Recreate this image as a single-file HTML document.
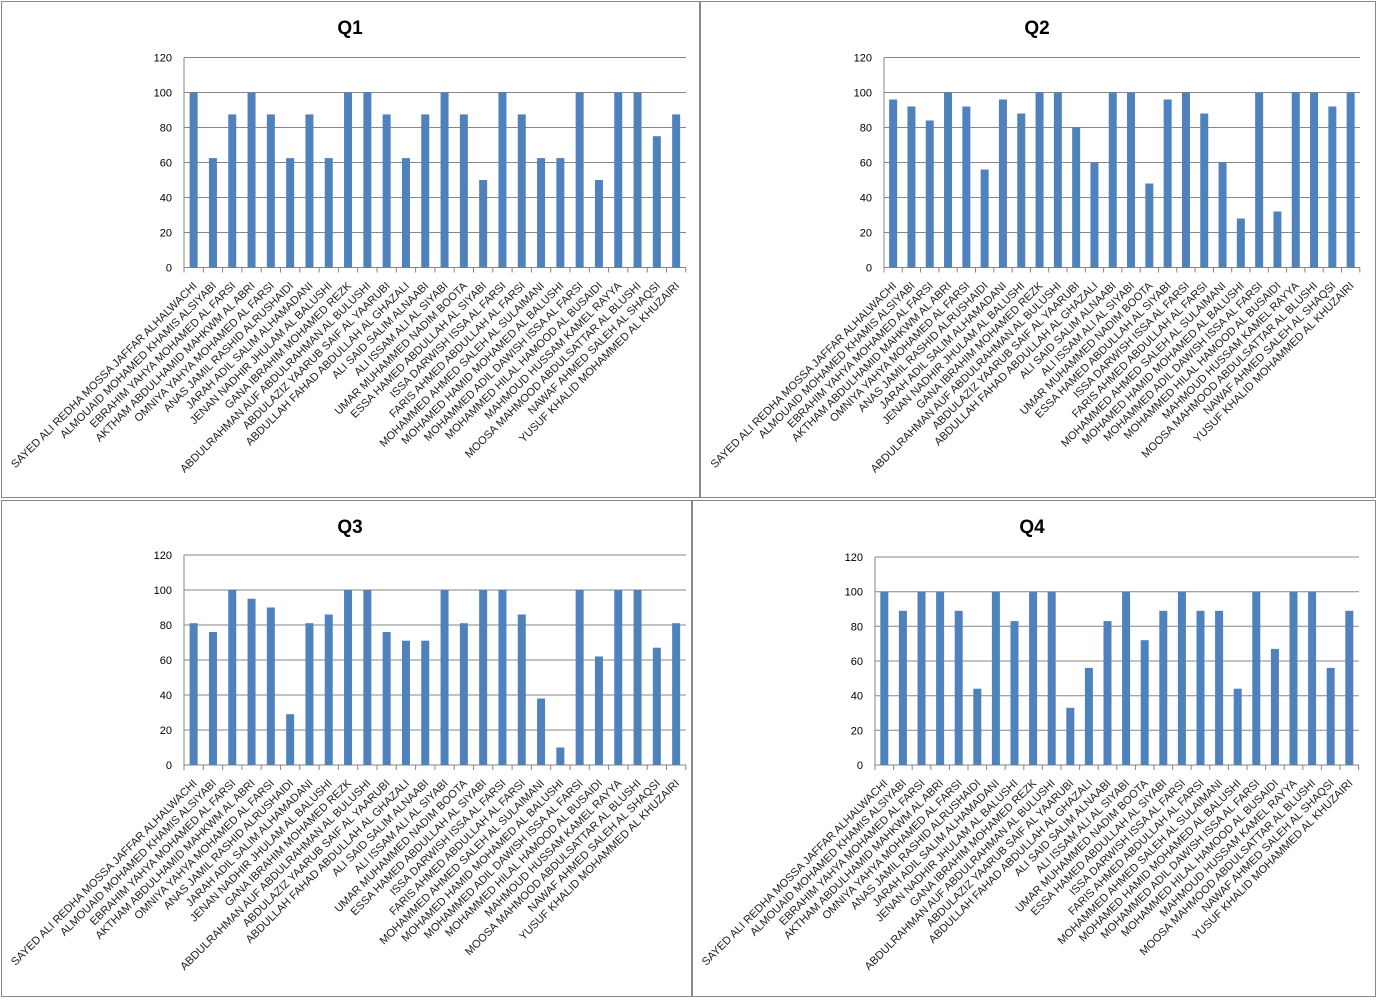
<!DOCTYPE html>
<html><head><meta charset="utf-8"><style>
body{margin:0;background:#fff}
svg{display:block;font-family:"Liberation Sans",sans-serif}
.b rect{width:8px;fill:#4f81bd}
.l text{font-size:11.1px;fill:#222;text-anchor:end}
.y text{font-size:11px;fill:#000;text-anchor:end}
.t{font-size:19px;font-weight:bold;text-anchor:middle}
.g{stroke:#868686;stroke-width:1;fill:none}
</style></head><body>
<svg width="1377" height="1001" viewBox="0 0 1377 1001">
<rect x="1.5" y="1.5" width="698" height="496" fill="none" stroke="#888"/>
<rect x="700.5" y="1.5" width="675" height="496" fill="none" stroke="#888"/>
<rect x="1.5" y="500.5" width="690" height="496" fill="none" stroke="#888"/>
<rect x="692.5" y="500.5" width="683" height="496" fill="none" stroke="#888"/>
<text class="t" x="350" y="34">Q1</text>
<text class="t" x="1037" y="34">Q2</text>
<text class="t" x="350" y="533">Q3</text>
<text class="t" x="1032" y="533">Q4</text>

<!-- Q1 -->
<g transform="translate(184,267.5)">
<path class="g" d="M0 -210H502M0 -175H502M0 -140H502M0 -105H502M0 -70H502M0 -35H502M0 0H502M0 -210V5"/>
<path class="g" d="M19.3 0v5M38.6 0v5M57.9 0v5M77.2 0v5M96.5 0v5M115.8 0v5M135.1 0v5M154.4 0v5M173.7 0v5M193 0v5M212.3 0v5M231.6 0v5M250.9 0v5M270.2 0v5M289.5 0v5M308.8 0v5M328.1 0v5M347.4 0v5M366.7 0v5M386 0v5M405.3 0v5M424.6 0v5M443.9 0v5M463.2 0v5M482.5 0v5M501.8 0v5"/>
<g class="y"><text x="-12" y="4">0</text><text x="-12" y="-31">20</text><text x="-12" y="-66">40</text><text x="-12" y="-101">60</text><text x="-12" y="-136">80</text><text x="-12" y="-171">100</text><text x="-12" y="-206">120</text></g>
<g class="b" transform="scale(1,-1)">
<rect x="5.65" height="175"/><rect x="24.95" height="109.4"/><rect x="44.25" height="153.1"/><rect x="63.55" height="175"/><rect x="82.85" height="153.1"/><rect x="102.15" height="109.4"/><rect x="121.45" height="153.1"/><rect x="140.75" height="109.4"/><rect x="160.05" height="175"/><rect x="179.35" height="175"/><rect x="198.65" height="153.1"/><rect x="217.95" height="109.4"/><rect x="237.25" height="153.1"/><rect x="256.55" height="175"/><rect x="275.85" height="153.1"/><rect x="295.15" height="87.5"/><rect x="314.45" height="175"/><rect x="333.75" height="153.1"/><rect x="353.05" height="109.4"/><rect x="372.35" height="109.4"/><rect x="391.65" height="175"/><rect x="410.95" height="87.5"/><rect x="430.25" height="175"/><rect x="449.55" height="175"/><rect x="468.85" height="131.3"/><rect x="488.15" height="153.1"/>
</g>
<g class="l">
<text transform="translate(13.6,19) rotate(-45)">SAYED ALI REDHA MOSSA JAFFAR ALHALWACHI</text>
<text transform="translate(32.9,19) rotate(-45)">ALMOUAID MOHAMED KHAMIS ALSIYABI</text>
<text transform="translate(52.2,19) rotate(-45)">EBRAHIM YAHYA MOHAMED AL FARSI</text>
<text transform="translate(71.5,19) rotate(-45)">AKTHAM ABDULHAMID MAHKWM AL ABRI</text>
<text transform="translate(90.8,19) rotate(-45)">OMNIYA YAHYA MOHAMED AL FARSI</text>
<text transform="translate(110.1,19) rotate(-45)">ANAS JAMIL RASHID ALRUSHAIDI</text>
<text transform="translate(129.4,19) rotate(-45)">JARAH ADIL SALIM ALHAMADANI</text>
<text transform="translate(148.7,19) rotate(-45)">JENAN NADHIR JHULAM AL BALUSHI</text>
<text transform="translate(168,19) rotate(-45)">GANA IBRAHIM MOHAMED REZK</text>
<text transform="translate(187.3,19) rotate(-45)">ABDULRAHMAN AUF ABDULRAHMAN AL BULUSHI</text>
<text transform="translate(206.6,19) rotate(-45)">ABDULAZIZ YAARUB SAIF AL YAARUBI</text>
<text transform="translate(225.9,19) rotate(-45)">ABDULLAH FAHAD ABDULLAH AL GHAZALI</text>
<text transform="translate(245.2,19) rotate(-45)">ALI SAID SALIM ALNAABI</text>
<text transform="translate(264.5,19) rotate(-45)">ALI ISSAM ALI AL SIYABI</text>
<text transform="translate(283.8,19) rotate(-45)">UMAR MUHAMMED NADIM BOOTA</text>
<text transform="translate(303.1,19) rotate(-45)">ESSA HAMED ABDULLAH AL SIYABI</text>
<text transform="translate(322.4,19) rotate(-45)">ISSA DARWISH ISSA AL FARSI</text>
<text transform="translate(341.7,19) rotate(-45)">FARIS AHMED ABDULLAH AL FARSI</text>
<text transform="translate(361,19) rotate(-45)">MOHAMMED AHMED SALEH AL SULAIMANI</text>
<text transform="translate(380.3,19) rotate(-45)">MOHAMED HAMID MOHAMED AL BALUSHI</text>
<text transform="translate(399.6,19) rotate(-45)">MOHAMMED ADIL DAWISH ISSA AL FARSI</text>
<text transform="translate(418.9,19) rotate(-45)">MOHAMMED HILAL HAMOOD AL BUSAIDI</text>
<text transform="translate(438.2,19) rotate(-45)">MAHMOUD HUSSAM KAMEL RAYYA</text>
<text transform="translate(457.5,19) rotate(-45)">MOOSA MAHMOOD ABDULSATTAR AL BLUSHI</text>
<text transform="translate(476.8,19) rotate(-45)">NAWAF AHMED SALEH AL SHAQSI</text>
<text transform="translate(496.1,19) rotate(-45)">YUSUF KHALID MOHAMMED AL KHUZAIRI</text>
</g>
</g>

<!-- Q2 -->
<g transform="translate(884,267.5)">
<path class="g" d="M0 -210H476M0 -175H476M0 -140H476M0 -105H476M0 -70H476M0 -35H476M0 0H476M0 -210V5"/>
<path class="g" d="M18.3 0v5M36.6 0v5M54.9 0v5M73.2 0v5M91.5 0v5M109.8 0v5M128.1 0v5M146.4 0v5M164.7 0v5M183 0v5M201.3 0v5M219.6 0v5M237.9 0v5M256.2 0v5M274.5 0v5M292.8 0v5M311.1 0v5M329.4 0v5M347.7 0v5M366 0v5M384.3 0v5M402.6 0v5M420.9 0v5M439.2 0v5M457.5 0v5M475.8 0v5"/>
<g class="y"><text x="-12" y="4">0</text><text x="-12" y="-31">20</text><text x="-12" y="-66">40</text><text x="-12" y="-101">60</text><text x="-12" y="-136">80</text><text x="-12" y="-171">100</text><text x="-12" y="-206">120</text></g>
<g class="b" transform="scale(1,-1)">
<rect x="5.15" height="168"/><rect x="23.45" height="161"/><rect x="41.75" height="147"/><rect x="60.05" height="175"/><rect x="78.35" height="161"/><rect x="96.65" height="98"/><rect x="114.95" height="168"/><rect x="133.25" height="154"/><rect x="151.55" height="175"/><rect x="169.85" height="175"/><rect x="188.15" height="140"/><rect x="206.45" height="105"/><rect x="224.75" height="175"/><rect x="243.05" height="175"/><rect x="261.35" height="84"/><rect x="279.65" height="168"/><rect x="297.95" height="175"/><rect x="316.25" height="154"/><rect x="334.55" height="105"/><rect x="352.85" height="49"/><rect x="371.15" height="175"/><rect x="389.45" height="56"/><rect x="407.75" height="175"/><rect x="426.05" height="175"/><rect x="444.35" height="161"/><rect x="462.65" height="175"/>
</g>
<g class="l">
<text transform="translate(13.1,19) rotate(-45)">SAYED ALI REDHA MOSSA JAFFAR ALHALWACHI</text>
<text transform="translate(31.4,19) rotate(-45)">ALMOUAID MOHAMED KHAMIS ALSIYABI</text>
<text transform="translate(49.7,19) rotate(-45)">EBRAHIM YAHYA MOHAMED AL FARSI</text>
<text transform="translate(68,19) rotate(-45)">AKTHAM ABDULHAMID MAHKWM AL ABRI</text>
<text transform="translate(86.3,19) rotate(-45)">OMNIYA YAHYA MOHAMED AL FARSI</text>
<text transform="translate(104.6,19) rotate(-45)">ANAS JAMIL RASHID ALRUSHAIDI</text>
<text transform="translate(122.9,19) rotate(-45)">JARAH ADIL SALIM ALHAMADANI</text>
<text transform="translate(141.2,19) rotate(-45)">JENAN NADHIR JHULAM AL BALUSHI</text>
<text transform="translate(159.5,19) rotate(-45)">GANA IBRAHIM MOHAMED REZK</text>
<text transform="translate(177.8,19) rotate(-45)">ABDULRAHMAN AUF ABDULRAHMAN AL BULUSHI</text>
<text transform="translate(196.1,19) rotate(-45)">ABDULAZIZ YAARUB SAIF AL YAARUBI</text>
<text transform="translate(214.4,19) rotate(-45)">ABDULLAH FAHAD ABDULLAH AL GHAZALI</text>
<text transform="translate(232.7,19) rotate(-45)">ALI SAID SALIM ALNAABI</text>
<text transform="translate(251,19) rotate(-45)">ALI ISSAM ALI AL SIYABI</text>
<text transform="translate(269.3,19) rotate(-45)">UMAR MUHAMMED NADIM BOOTA</text>
<text transform="translate(287.6,19) rotate(-45)">ESSA HAMED ABDULLAH AL SIYABI</text>
<text transform="translate(305.9,19) rotate(-45)">ISSA DARWISH ISSA AL FARSI</text>
<text transform="translate(324.2,19) rotate(-45)">FARIS AHMED ABDULLAH AL FARSI</text>
<text transform="translate(342.5,19) rotate(-45)">MOHAMMED AHMED SALEH AL SULAIMANI</text>
<text transform="translate(360.8,19) rotate(-45)">MOHAMED HAMID MOHAMED AL BALUSHI</text>
<text transform="translate(379.1,19) rotate(-45)">MOHAMMED ADIL DAWISH ISSA AL FARSI</text>
<text transform="translate(397.4,19) rotate(-45)">MOHAMMED HILAL HAMOOD AL BUSAIDI</text>
<text transform="translate(415.7,19) rotate(-45)">MAHMOUD HUSSAM KAMEL RAYYA</text>
<text transform="translate(434,19) rotate(-45)">MOOSA MAHMOOD ABDULSATTAR AL BLUSHI</text>
<text transform="translate(452.3,19) rotate(-45)">NAWAF AHMED SALEH AL SHAQSI</text>
<text transform="translate(470.6,19) rotate(-45)">YUSUF KHALID MOHAMMED AL KHUZAIRI</text>
</g>
</g>

<!-- Q3 -->
<g transform="translate(184,765)">
<path class="g" d="M0 -210H502M0 -175H502M0 -140H502M0 -105H502M0 -70H502M0 -35H502M0 0H502M0 -210V5"/>
<path class="g" d="M19.3 0v5M38.6 0v5M57.9 0v5M77.2 0v5M96.5 0v5M115.8 0v5M135.1 0v5M154.4 0v5M173.7 0v5M193 0v5M212.3 0v5M231.6 0v5M250.9 0v5M270.2 0v5M289.5 0v5M308.8 0v5M328.1 0v5M347.4 0v5M366.7 0v5M386 0v5M405.3 0v5M424.6 0v5M443.9 0v5M463.2 0v5M482.5 0v5M501.8 0v5"/>
<g class="y"><text x="-12" y="4">0</text><text x="-12" y="-31">20</text><text x="-12" y="-66">40</text><text x="-12" y="-101">60</text><text x="-12" y="-136">80</text><text x="-12" y="-171">100</text><text x="-12" y="-206">120</text></g>
<g class="b" transform="scale(1,-1)">
<rect x="5.65" height="141.8"/><rect x="24.95" height="133"/><rect x="44.25" height="175"/><rect x="63.55" height="166.3"/><rect x="82.85" height="157.5"/><rect x="102.15" height="50.8"/><rect x="121.45" height="141.8"/><rect x="140.75" height="150.5"/><rect x="160.05" height="175"/><rect x="179.35" height="175"/><rect x="198.65" height="133"/><rect x="217.95" height="124.3"/><rect x="237.25" height="124.3"/><rect x="256.55" height="175"/><rect x="275.85" height="141.8"/><rect x="295.15" height="175"/><rect x="314.45" height="175"/><rect x="333.75" height="150.5"/><rect x="353.05" height="66.5"/><rect x="372.35" height="17.5"/><rect x="391.65" height="175"/><rect x="410.95" height="108.5"/><rect x="430.25" height="175"/><rect x="449.55" height="175"/><rect x="468.85" height="117.3"/><rect x="488.15" height="141.8"/>
</g>
<g class="l">
<text transform="translate(13.6,19) rotate(-45)">SAYED ALI REDHA MOSSA JAFFAR ALHALWACHI</text>
<text transform="translate(32.9,19) rotate(-45)">ALMOUAID MOHAMED KHAMIS ALSIYABI</text>
<text transform="translate(52.2,19) rotate(-45)">EBRAHIM YAHYA MOHAMED AL FARSI</text>
<text transform="translate(71.5,19) rotate(-45)">AKTHAM ABDULHAMID MAHKWM AL ABRI</text>
<text transform="translate(90.8,19) rotate(-45)">OMNIYA YAHYA MOHAMED AL FARSI</text>
<text transform="translate(110.1,19) rotate(-45)">ANAS JAMIL RASHID ALRUSHAIDI</text>
<text transform="translate(129.4,19) rotate(-45)">JARAH ADIL SALIM ALHAMADANI</text>
<text transform="translate(148.7,19) rotate(-45)">JENAN NADHIR JHULAM AL BALUSHI</text>
<text transform="translate(168,19) rotate(-45)">GANA IBRAHIM MOHAMED REZK</text>
<text transform="translate(187.3,19) rotate(-45)">ABDULRAHMAN AUF ABDULRAHMAN AL BULUSHI</text>
<text transform="translate(206.6,19) rotate(-45)">ABDULAZIZ YAARUB SAIF AL YAARUBI</text>
<text transform="translate(225.9,19) rotate(-45)">ABDULLAH FAHAD ABDULLAH AL GHAZALI</text>
<text transform="translate(245.2,19) rotate(-45)">ALI SAID SALIM ALNAABI</text>
<text transform="translate(264.5,19) rotate(-45)">ALI ISSAM ALI AL SIYABI</text>
<text transform="translate(283.8,19) rotate(-45)">UMAR MUHAMMED NADIM BOOTA</text>
<text transform="translate(303.1,19) rotate(-45)">ESSA HAMED ABDULLAH AL SIYABI</text>
<text transform="translate(322.4,19) rotate(-45)">ISSA DARWISH ISSA AL FARSI</text>
<text transform="translate(341.7,19) rotate(-45)">FARIS AHMED ABDULLAH AL FARSI</text>
<text transform="translate(361,19) rotate(-45)">MOHAMMED AHMED SALEH AL SULAIMANI</text>
<text transform="translate(380.3,19) rotate(-45)">MOHAMED HAMID MOHAMED AL BALUSHI</text>
<text transform="translate(399.6,19) rotate(-45)">MOHAMMED ADIL DAWISH ISSA AL FARSI</text>
<text transform="translate(418.9,19) rotate(-45)">MOHAMMED HILAL HAMOOD AL BUSAIDI</text>
<text transform="translate(438.2,19) rotate(-45)">MAHMOUD HUSSAM KAMEL RAYYA</text>
<text transform="translate(457.5,19) rotate(-45)">MOOSA MAHMOOD ABDULSATTAR AL BLUSHI</text>
<text transform="translate(476.8,19) rotate(-45)">NAWAF AHMED SALEH AL SHAQSI</text>
<text transform="translate(496.1,19) rotate(-45)">YUSUF KHALID MOHAMMED AL KHUZAIRI</text>
</g>
</g>

<!-- Q4 -->
<g transform="translate(875,765)">
<path class="g" d="M0 -208H484M0 -173.3H484M0 -138.7H484M0 -104H484M0 -69.3H484M0 -34.7H484M0 0H484M0 -208V5"/>
<path class="g" d="M18.6 0v5M37.2 0v5M55.8 0v5M74.4 0v5M93 0v5M111.6 0v5M130.2 0v5M148.8 0v5M167.4 0v5M186 0v5M204.6 0v5M223.2 0v5M241.8 0v5M260.4 0v5M279 0v5M297.6 0v5M316.2 0v5M334.8 0v5M353.4 0v5M372 0v5M390.6 0v5M409.2 0v5M427.8 0v5M446.4 0v5M465 0v5M483.6 0v5"/>
<g class="y"><text x="-12" y="4">0</text><text x="-12" y="-30.7">20</text><text x="-12" y="-65.3">40</text><text x="-12" y="-100">60</text><text x="-12" y="-134.7">80</text><text x="-12" y="-169.3">100</text><text x="-12" y="-204">120</text></g>
<g class="b" transform="scale(1,-1)">
<rect x="5.3" height="173.3"/><rect x="23.9" height="154.2"/><rect x="42.5" height="173.3"/><rect x="61.1" height="173.3"/><rect x="79.7" height="154.2"/><rect x="98.3" height="76.3"/><rect x="116.9" height="173.3"/><rect x="135.5" height="143.9"/><rect x="154.1" height="173.3"/><rect x="172.7" height="173.3"/><rect x="191.3" height="57.2"/><rect x="209.9" height="97.1"/><rect x="228.5" height="143.9"/><rect x="247.1" height="173.3"/><rect x="265.7" height="124.8"/><rect x="284.3" height="154.2"/><rect x="302.9" height="173.3"/><rect x="321.5" height="154.2"/><rect x="340.1" height="154.2"/><rect x="358.7" height="76.3"/><rect x="377.3" height="173.3"/><rect x="395.9" height="116.1"/><rect x="414.5" height="173.3"/><rect x="433.1" height="173.3"/><rect x="451.7" height="97.1"/><rect x="470.3" height="154.2"/>
</g>
<g class="l">
<text transform="translate(13.3,19) rotate(-45)">SAYED ALI REDHA MOSSA JAFFAR ALHALWACHI</text>
<text transform="translate(31.9,19) rotate(-45)">ALMOUAID MOHAMED KHAMIS ALSIYABI</text>
<text transform="translate(50.5,19) rotate(-45)">EBRAHIM YAHYA MOHAMED AL FARSI</text>
<text transform="translate(69.1,19) rotate(-45)">AKTHAM ABDULHAMID MAHKWM AL ABRI</text>
<text transform="translate(87.7,19) rotate(-45)">OMNIYA YAHYA MOHAMED AL FARSI</text>
<text transform="translate(106.3,19) rotate(-45)">ANAS JAMIL RASHID ALRUSHAIDI</text>
<text transform="translate(124.9,19) rotate(-45)">JARAH ADIL SALIM ALHAMADANI</text>
<text transform="translate(143.5,19) rotate(-45)">JENAN NADHIR JHULAM AL BALUSHI</text>
<text transform="translate(162.1,19) rotate(-45)">GANA IBRAHIM MOHAMED REZK</text>
<text transform="translate(180.7,19) rotate(-45)">ABDULRAHMAN AUF ABDULRAHMAN AL BULUSHI</text>
<text transform="translate(199.3,19) rotate(-45)">ABDULAZIZ YAARUB SAIF AL YAARUBI</text>
<text transform="translate(217.9,19) rotate(-45)">ABDULLAH FAHAD ABDULLAH AL GHAZALI</text>
<text transform="translate(236.5,19) rotate(-45)">ALI SAID SALIM ALNAABI</text>
<text transform="translate(255.1,19) rotate(-45)">ALI ISSAM ALI AL SIYABI</text>
<text transform="translate(273.7,19) rotate(-45)">UMAR MUHAMMED NADIM BOOTA</text>
<text transform="translate(292.3,19) rotate(-45)">ESSA HAMED ABDULLAH AL SIYABI</text>
<text transform="translate(310.9,19) rotate(-45)">ISSA DARWISH ISSA AL FARSI</text>
<text transform="translate(329.5,19) rotate(-45)">FARIS AHMED ABDULLAH AL FARSI</text>
<text transform="translate(348.1,19) rotate(-45)">MOHAMMED AHMED SALEH AL SULAIMANI</text>
<text transform="translate(366.7,19) rotate(-45)">MOHAMED HAMID MOHAMED AL BALUSHI</text>
<text transform="translate(385.3,19) rotate(-45)">MOHAMMED ADIL DAWISH ISSA AL FARSI</text>
<text transform="translate(403.9,19) rotate(-45)">MOHAMMED HILAL HAMOOD AL BUSAIDI</text>
<text transform="translate(422.5,19) rotate(-45)">MAHMOUD HUSSAM KAMEL RAYYA</text>
<text transform="translate(441.1,19) rotate(-45)">MOOSA MAHMOOD ABDULSATTAR AL BLUSHI</text>
<text transform="translate(459.7,19) rotate(-45)">NAWAF AHMED SALEH AL SHAQSI</text>
<text transform="translate(478.3,19) rotate(-45)">YUSUF KHALID MOHAMMED AL KHUZAIRI</text>
</g>
</g>
</svg>
</body></html>
